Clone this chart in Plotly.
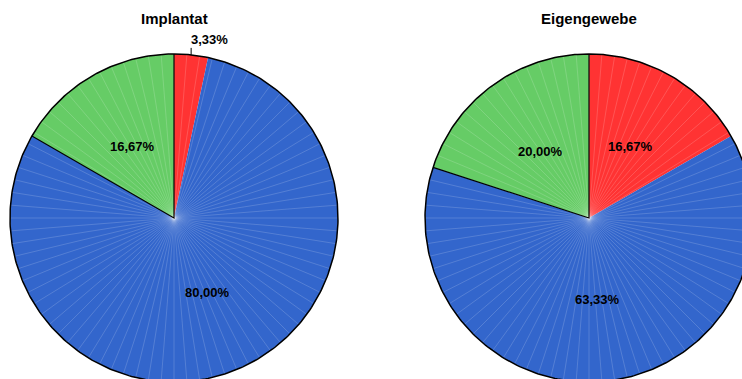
import numpy as np
import plotly.graph_objects as go

# Percent shares per chart, slices run clockwise from 12 o'clock
titles = ["Implantat", "Eigengewebe"]
implantat_pct = [3.33, 80.00, 16.67]
eigengewebe_pct = [16.67, 63.33, 20.00]
slice_colors = ["#FF3333", "#3366CC", "#66CC66"]

W, H = 742, 379
centers = [(174, 218), (589, 218)]
R = 164
N_RAYS = 80
FONT = "Liberation Sans, Arial, sans-serif"


def pt(cx, cy, r, deg):
    a = np.radians(deg)
    return cx + r * np.sin(a), cy - r * np.cos(a)


fig = go.Figure()
annotations = []

for title, values, (cx, cy) in zip(titles, [implantat_pct, eigengewebe_pct], centers):
    total = sum(values)
    start = 0.0
    spans = []
    for v, col in zip(values, slice_colors):
        end = start + 360.0 * v / total
        angs = np.linspace(start, end, max(4, int(end - start) * 2))
        xs = [cx] + [pt(cx, cy, R, a)[0] for a in angs] + [cx]
        ys = [cy] + [pt(cx, cy, R, a)[1] for a in angs] + [cy]
        fig.add_trace(go.Scatter(x=xs, y=ys, mode="lines", fill="toself",
                                 fillcolor=col, line=dict(width=0),
                                 hoverinfo="skip", showlegend=False))
        spans.append((start, end, v))
        start = end

    # fine radial texture
    rx, ry = [], []
    for a in np.arange(0, 360, 360 / N_RAYS):
        x1, y1 = pt(cx, cy, R, a)
        rx += [cx, x1, None]
        ry += [cy, y1, None]
    fig.add_trace(go.Scatter(x=rx, y=ry, mode="lines",
                             line=dict(color="rgba(255,255,255,0.28)", width=0.6),
                             hoverinfo="skip", showlegend=False))

    # outline: full rim plus the edges of the last slice
    angs = np.linspace(0, 360, 361)
    fig.add_trace(go.Scatter(x=[pt(cx, cy, R, a)[0] for a in angs],
                             y=[pt(cx, cy, R, a)[1] for a in angs],
                             mode="lines", line=dict(color="black", width=1.5),
                             hoverinfo="skip", showlegend=False))
    s, e, _ = spans[-1]
    xs0, ys0 = pt(cx, cy, R, s)
    xs1, ys1 = pt(cx, cy, R, e)
    fig.add_trace(go.Scatter(x=[xs0, cx, xs1], y=[ys0, cy, ys1], mode="lines",
                             line=dict(color="black", width=1.2),
                             hoverinfo="skip", showlegend=False))

    # value labels
    for s, e, v in spans:
        mid = (s + e) / 2
        text = f"{v:.2f}%".replace(".", ",")
        if v < 5:
            x0, y0 = pt(cx, cy, R, mid)
            x1, y1 = x0, y0 - 7
            fig.add_trace(go.Scatter(x=[x0, x1], y=[y0, y1], mode="lines",
                                     line=dict(color="black", width=1),
                                     hoverinfo="skip", showlegend=False))
            annotations.append(dict(x=x1 - 2, y=y1 + 1, text=f"<b>{text}</b>",
                                    xanchor="left", yanchor="bottom",
                                    showarrow=False,
                                    font=dict(size=13, color="black", family=FONT)))
        else:
            lx, ly = pt(cx, cy, R * 0.5, mid)
            annotations.append(dict(x=lx, y=ly, text=f"<b>{text}</b>",
                                    xanchor="center", yanchor="middle",
                                    showarrow=False,
                                    font=dict(size=13, color="black", family=FONT)))

    annotations.append(dict(x=cx, y=18, text=f"<b>{title}</b>",
                            xanchor="center", yanchor="middle", showarrow=False,
                            font=dict(size=15, color="black", family=FONT)))

fig.update_layout(
    width=W, height=H,
    margin=dict(l=0, r=0, t=0, b=0),
    paper_bgcolor="white", plot_bgcolor="white",
    xaxis=dict(range=[0, W], visible=False, fixedrange=True),
    yaxis=dict(range=[H, 0], visible=False, fixedrange=True),
    annotations=annotations,
    showlegend=False,
)

fig.write_html("out.html")
